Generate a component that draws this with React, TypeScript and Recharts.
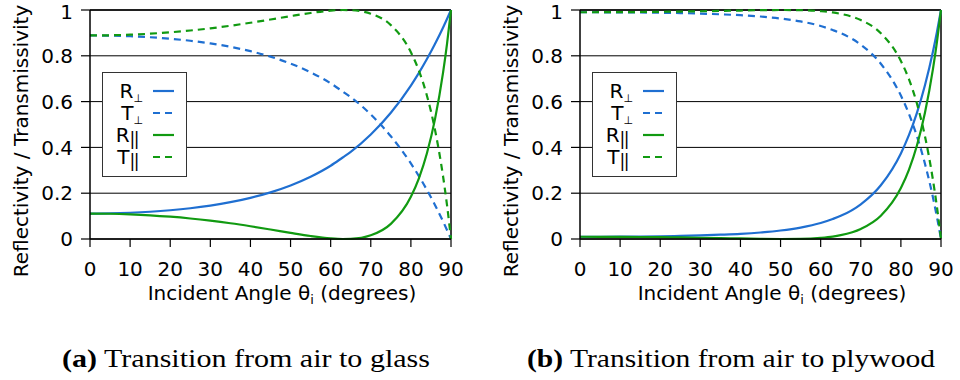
import React from "react";
import {
  LineChart,
  Line,
  XAxis,
  YAxis,
  CartesianGrid,
  ReferenceLine,
  Legend,
  Label,
} from "recharts";

// incident angles (degrees) sampled along the curves
const ANGLES = [0, 5, 10, 15, 20, 25, 30, 35, 40, 45, 50, 55, 60, 63, 65, 70, 75, 80, 82, 84, 86, 88, 89, 90];

// (a) air -> glass
const GLASS_R_PERP = [0.1111, 0.112, 0.1146, 0.119, 0.1255, 0.1343, 0.1459, 0.1608, 0.1798, 0.2038, 0.234, 0.2721, 0.3201, 0.356, 0.3804, 0.4562, 0.5513, 0.6701, 0.7254, 0.7857, 0.8513, 0.9226, 0.9605, 1];
const GLASS_T_PERP = [0.8889, 0.888, 0.8854, 0.881, 0.8745, 0.8657, 0.8541, 0.8392, 0.8202, 0.7962, 0.766, 0.7279, 0.6799, 0.644, 0.6196, 0.5438, 0.4487, 0.3299, 0.2746, 0.2143, 0.1487, 0.0774, 0.0395, 0];
const GLASS_R_PAR = [0.1111, 0.1103, 0.1077, 0.1035, 0.0974, 0.0896, 0.08, 0.0687, 0.0557, 0.0415, 0.0268, 0.013, 0.0027, 0.0, 0.0007, 0.0161, 0.066, 0.1845, 0.2649, 0.3741, 0.5223, 0.724, 0.851, 1];
const GLASS_T_PAR = [0.8889, 0.8897, 0.8923, 0.8965, 0.9026, 0.9104, 0.92, 0.9313, 0.9443, 0.9585, 0.9732, 0.987, 0.9973, 1.0, 0.9993, 0.9839, 0.934, 0.8155, 0.7351, 0.6259, 0.4777, 0.276, 0.149, 0];

// (b) air -> plywood
const PLY_R_PERP = [0.0098, 0.0099, 0.0103, 0.011, 0.012, 0.0135, 0.0156, 0.0188, 0.0226, 0.0285, 0.0371, 0.05, 0.0699, 0.0875, 0.1011, 0.1516, 0.2347, 0.3738, 0.4532, 0.551, 0.6713, 0.819, 0.905, 1];
const PLY_T_PERP = [0.9902, 0.9901, 0.9897, 0.989, 0.988, 0.9865, 0.9844, 0.9812, 0.9774, 0.9715, 0.9629, 0.95, 0.9301, 0.9125, 0.8989, 0.8484, 0.7653, 0.6262, 0.5468, 0.449, 0.3287, 0.181, 0.095, 0];
const PLY_R_PAR = [0.0098, 0.0097, 0.0093, 0.0087, 0.0078, 0.0067, 0.0054, 0.0039, 0.0023, 0.0008, 0.0, 0.0008, 0.0052, 0.0107, 0.0169, 0.0437, 0.1014, 0.2226, 0.302, 0.4085, 0.5512, 0.7427, 0.8618, 1];
const PLY_T_PAR = [0.9902, 0.9903, 0.9907, 0.9913, 0.9922, 0.9933, 0.9946, 0.9961, 0.9977, 0.9992, 1.0, 0.9992, 0.9948, 0.9893, 0.9831, 0.9563, 0.8986, 0.7774, 0.698, 0.5915, 0.4488, 0.2573, 0.1382, 0];

const X_TICKS = [0, 10, 20, 30, 40, 50, 60, 70, 80, 90];
const Y_TICKS = [0, 0.2, 0.4, 0.6, 0.8, 1];

const BLUE = "#1f6fd1";
const GREEN = "#119a11";
const FONT = "DejaVu Sans";
const FS = 20;

const SERIES = [
  { key: "rPerp", base: "R", sub: "⊥", color: BLUE, dash: undefined },
  { key: "tPerp", base: "T", sub: "⊥", color: BLUE, dash: "7 5" },
  { key: "rPar", base: "R", sub: "||", color: GREEN, dash: undefined },
  { key: "tPar", base: "T", sub: "||", color: GREEN, dash: "7 5" },
];

function buildRows(rPerp: number[], tPerp: number[], rPar: number[], tPar: number[]) {
  return ANGLES.map((angle, i) => ({
    angle,
    rPerp: rPerp[i],
    tPerp: tPerp[i],
    rPar: rPar[i],
    tPar: tPar[i],
  }));
}

const glassRows = buildRows(GLASS_R_PERP, GLASS_T_PERP, GLASS_R_PAR, GLASS_T_PAR);
const plyRows = buildRows(PLY_R_PERP, PLY_T_PERP, PLY_R_PAR, PLY_T_PAR);

function LegendBox() {
  return (
    <div
      style={{
        width: 85,
        height: 105,
        boxSizing: "border-box",
        border: "1.5px solid #333",
        background: "#fff",
      }}
    >
      <svg width={82} height={102} style={{ display: "block" }}>
        {SERIES.map((s, i) => {
          const y = 18 + i * 22;
          const perp = s.sub === "⊥";
          return (
            <g key={s.key}>
              <text
                x={perp ? 40 : 35}
                y={y + 7}
                textAnchor="end"
                fontFamily={FONT}
                fontSize={FS}
                fill="#000"
              >
                {s.base}
                {perp ? (
                  <tspan fontSize={11} dy={4}>⊥</tspan>
                ) : (
                  <tspan fontSize={17} dy={3} letterSpacing={-1.5}>||</tspan>
                )}
              </text>
              <line
                x1={50}
                x2={71}
                y1={y}
                y2={y}
                stroke={s.color}
                strokeWidth={2.2}
                strokeDasharray={s.dash}
              />
            </g>
          );
        })}
      </svg>
    </div>
  );
}

function Panel({ data }: { data: any[] }) {
  return (
    <LineChart
      width={480}
      height={320}
      data={data}
      margin={{ top: 10, right: 29, bottom: 31, left: 0 }}
    >
      <CartesianGrid horizontal vertical={false} stroke="#000" strokeWidth={1} />
      <XAxis
        dataKey="angle"
        type="number"
        domain={[0, 90]}
        ticks={X_TICKS}
        height={50}
        tickSize={8}
        tickMargin={15}
        axisLine={{ stroke: "#000", strokeWidth: 1.5 }}
        tickLine={{ stroke: "#000", strokeWidth: 1.2 }}
        tick={{ fill: "#000", fontFamily: FONT, fontSize: FS }}
      >
        <Label
          content={() => (
            <text x={282} y={300} textAnchor="middle" fontFamily={FONT} fontSize={FS} fill="#000">
              Incident Angle θ
              <tspan fontSize={13} dy={4}>i</tspan>
              <tspan dy={-4}> (degrees)</tspan>
            </text>
          )}
        />
      </XAxis>
      <YAxis
        type="number"
        domain={[0, 1]}
        ticks={Y_TICKS}
        width={90}
        tickSize={9}
        tickMargin={8}
        axisLine={{ stroke: "#000", strokeWidth: 1.5 }}
        tickLine={{ stroke: "#000", strokeWidth: 1.2 }}
        tick={{ fill: "#000", fontFamily: FONT, fontSize: FS }}
      >
        <Label
          content={() => (
            <text
              x={28}
              y={141}
              transform="rotate(-90 28 141)"
              textAnchor="middle"
              fontFamily={FONT}
              fontSize={FS}
              fill="#000"
            >
              Reflectivity / Transmissivity
            </text>
          )}
        />
      </YAxis>
      <ReferenceLine y={1} stroke="#000" strokeWidth={1.5} />
      <ReferenceLine x={90} stroke="#000" strokeWidth={1.5} />
      <Legend
        layout="horizontal"
        verticalAlign="middle"
        align="center"
        wrapperStyle={{ left: 102, top: 72, width: 85, height: 105 }}
        content={() => <LegendBox />}
      />
      {SERIES.map((s) => (
        <Line
          key={s.key}
          dataKey={s.key}
          name={s.base + s.sub}
          type="monotone"
          stroke={s.color}
          strokeWidth={2.2}
          strokeDasharray={s.dash}
          dot={false}
          activeDot={false}
          isAnimationActive={false}
        />
      ))}
    </LineChart>
  );
}

export default function App() {
  return (
    <div
      style={{
        position: "absolute",
        left: 0,
        top: 0,
        width: 960,
        height: 380,
        background: "#fff",
        overflow: "hidden",
      }}
    >
      <div style={{ position: "absolute", left: 0, top: 0 }}>
        <Panel data={glassRows} />
      </div>
      <div style={{ position: "absolute", left: 490, top: 0 }}>
        <Panel data={plyRows} />
      </div>
      <svg width={960} height={380} style={{ position: "absolute", left: 0, top: 0, pointerEvents: "none" }}>
        <text
          x={62}
          y={367}
          fontFamily="Liberation Serif"
          fontSize={26}
          fill="#000"
          textLength={368}
          lengthAdjust="spacingAndGlyphs"
        >
          <tspan fontWeight="bold">(a)</tspan> Transition from air to glass
        </text>
        <text
          x={527}
          y={367}
          fontFamily="Liberation Serif"
          fontSize={26}
          fill="#000"
          textLength={408}
          lengthAdjust="spacingAndGlyphs"
        >
          <tspan fontWeight="bold">(b)</tspan> Transition from air to plywood
        </text>
      </svg>
    </div>
  );
}
